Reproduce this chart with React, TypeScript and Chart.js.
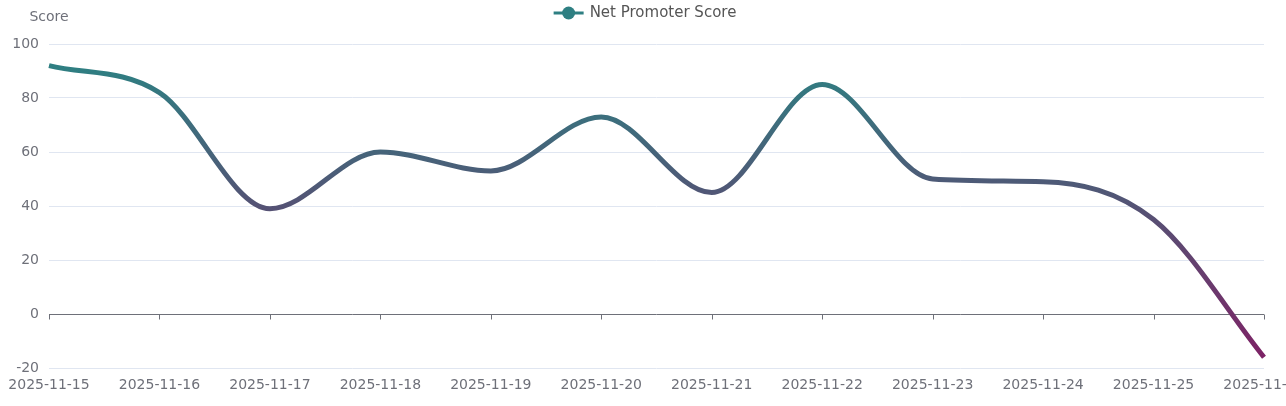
import React, { useEffect, useRef } from "react";
import { Chart, registerables } from "chart.js";

Chart.register(...registerables);

const categories = [
  "2025-11-15", "2025-11-16", "2025-11-17", "2025-11-18", "2025-11-19", "2025-11-20",
  "2025-11-21", "2025-11-22", "2025-11-23", "2025-11-24", "2025-11-25", "2025-11-26",
];
const npsValues = [92, 82, 39, 60, 53, 73, 45, 85, 50, 49, 35, -16];
const seriesName = "Net Promoter Score";
const yAxisName = "Score";
const yMin = -20;
const yMax = 100;
const yStep = 20;

const TEAL = "#2e7f82";
const PURPLE = "#7d2366";
const FONT = "'DejaVu Sans', sans-serif";
const LABEL_COLOR = "#6e7079";

const decorPlugin = {
  id: "decor",
  beforeDatasetsDraw(chart: any) {
    const { ctx, scales } = chart;
    const x = scales.x;
    const y = scales.y;
    const y0 = y.getPixelForValue(0);
    ctx.save();
    ctx.strokeStyle = LABEL_COLOR;
    ctx.lineWidth = 1;
    ctx.beginPath();
    ctx.moveTo(x.left, Math.round(y0) + 0.5);
    ctx.lineTo(x.right, Math.round(y0) + 0.5);
    for (let i = 0; i < categories.length; i++) {
      const px = Math.round(x.getPixelForValue(i)) + 0.5;
      ctx.moveTo(px, Math.round(y0) + 0.5);
      ctx.lineTo(px, Math.round(y0) + 5.5);
    }
    ctx.stroke();
    ctx.restore();
  },
  afterDraw(chart: any) {
    const { ctx } = chart;
    ctx.save();
    ctx.fillStyle = LABEL_COLOR;
    ctx.font = `14px ${FONT}`;
    ctx.textAlign = "center";
    ctx.textBaseline = "middle";
    ctx.fillText(yAxisName, 49, 17);
    ctx.font = `15px ${FONT}`;
    const textW = ctx.measureText(seriesName).width;
    const iconW = 30;
    const gap = 6;
    const total = iconW + gap + textW;
    const startX = chart.width / 2 - total / 2 + 2;
    const cy = 13;
    ctx.strokeStyle = TEAL;
    ctx.lineWidth = 3;
    ctx.beginPath();
    ctx.moveTo(startX, cy);
    ctx.lineTo(startX + iconW, cy);
    ctx.stroke();
    ctx.fillStyle = TEAL;
    ctx.beginPath();
    ctx.arc(startX + iconW / 2, cy, 6.5, 0, Math.PI * 2);
    ctx.fill();
    ctx.fillStyle = "#555";
    ctx.textAlign = "left";
    ctx.fillText(seriesName, startX + iconW + gap, cy);
    ctx.restore();
  },
};

export default function App() {
  const canvasRef = useRef<HTMLCanvasElement | null>(null);

  useEffect(() => {
    document.body.style.margin = "0";
    const canvas = canvasRef.current;
    if (!canvas) return;
    const dmax = Math.max(...npsValues);
    const dmin = Math.min(...npsValues);
    const chart = new Chart(canvas, {
      type: "line",
      data: {
        labels: categories,
        datasets: [
          {
            label: seriesName,
            data: npsValues,
            borderWidth: 5,
            pointRadius: 0,
            pointHoverRadius: 0,
            cubicInterpolationMode: "monotone",
            fill: false,
            borderColor: (context: any) => {
              const c = context.chart;
              const ys = c.scales.y;
              if (!ys || !c.chartArea) return TEAL;
              const g = c.ctx.createLinearGradient(0, ys.getPixelForValue(dmax), 0, ys.getPixelForValue(dmin));
              g.addColorStop(0, TEAL);
              g.addColorStop(1, PURPLE);
              return g;
            },
          },
        ],
      },
      options: {
        animation: false,
        responsive: false,
        maintainAspectRatio: false,
        layout: { padding: { top: 44, right: 22, left: 0, bottom: 0 } },
        plugins: {
          legend: { display: false },
          tooltip: { enabled: false },
        },
        scales: {
          x: {
            type: "category",
            offset: false,
            grid: { display: false },
            border: { display: false },
            ticks: {
              color: LABEL_COLOR,
              font: { family: FONT, size: 14 },
              autoSkip: false,
              maxRotation: 0,
              minRotation: 0,
              padding: 1,
            },
            afterFit(scale: any) {
              scale.height = 38;
              scale.paddingLeft = 0;
              scale.paddingRight = 0;
            },
          },
          y: {
            min: yMin,
            max: yMax,
            ticks: {
              stepSize: yStep,
              color: LABEL_COLOR,
              font: { family: FONT, size: 14 },
              padding: 10,
            },
            grid: {
              color: "#e0e6f1",
              drawTicks: false,
              lineWidth: (ctx: any) => (ctx.tick && ctx.tick.value === 0 ? 0 : 1),
            },
            border: { display: false },
            afterFit(scale: any) {
              scale.width = 49;
            },
          },
        },
      },
      plugins: [decorPlugin],
    });
    return () => chart.destroy();
  }, []);

  return (
    <div style={{ width: 1286, height: 406 }}>
      <canvas ref={canvasRef} width={1286} height={406} style={{ width: 1286, height: 406, display: "block" }} />
    </div>
  );
}
